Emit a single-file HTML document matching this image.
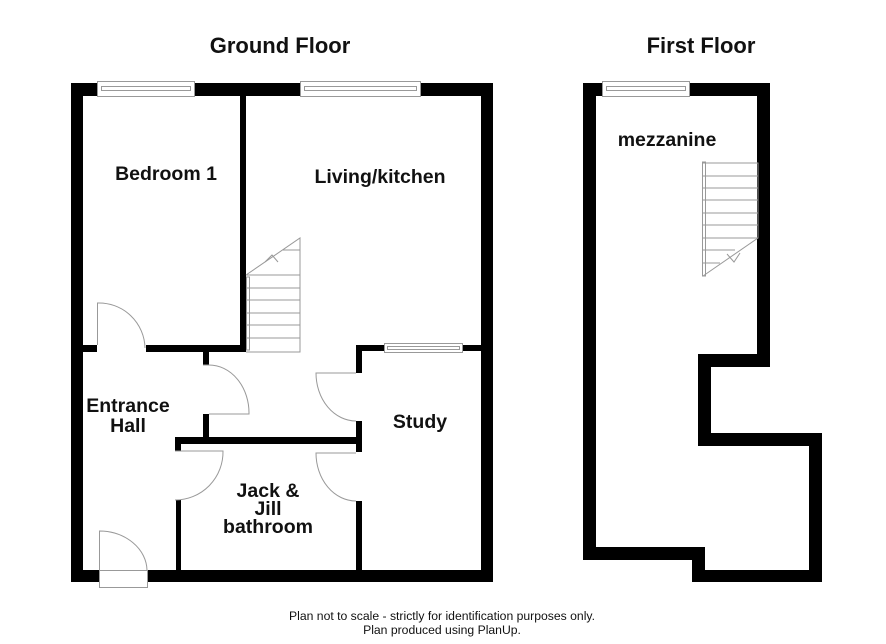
<!DOCTYPE html>
<html><head><meta charset="utf-8"><style>
html,body{margin:0;padding:0;background:#fff;}
svg{display:block;}
text{font-family:"Liberation Sans",Arial,sans-serif;font-weight:bold;fill:#111;}
</style></head><body>
<svg width="886" height="644" viewBox="0 0 886 644" xmlns="http://www.w3.org/2000/svg">
<rect width="886" height="644" fill="#fff"/>
<g fill="#000">
<rect x="71" y="83" width="26" height="13"/>
<rect x="195" y="83" width="105" height="13"/>
<rect x="421" y="83" width="72" height="13"/>
<rect x="71" y="83" width="12" height="499"/>
<rect x="481" y="83" width="12" height="499"/>
<rect x="71" y="570" width="28" height="12"/>
<rect x="148" y="570" width="345" height="12"/>
<rect x="240" y="95" width="6" height="257"/>
<rect x="83" y="345" width="14" height="7"/>
<rect x="146" y="345" width="100" height="7"/>
<rect x="203" y="350" width="6" height="15"/>
<rect x="203" y="414" width="6" height="28"/>
<rect x="175" y="437" width="187" height="7"/>
<rect x="175" y="437" width="6" height="14"/>
<rect x="176" y="500" width="5" height="72"/>
<rect x="356" y="345" width="28" height="6"/>
<rect x="462" y="345" width="20" height="6"/>
<rect x="356" y="345" width="6" height="28"/>
<rect x="356" y="421" width="6" height="31"/>
<rect x="356" y="501" width="6" height="71"/>
<rect x="583" y="83" width="19" height="13"/>
<rect x="690" y="83" width="80" height="13"/>
<rect x="583" y="83" width="13" height="477"/>
<rect x="757" y="83" width="13" height="284"/>
<rect x="698" y="354" width="72" height="13"/>
<rect x="698" y="354" width="13" height="92"/>
<rect x="698" y="433" width="124" height="13"/>
<rect x="809" y="433" width="13" height="149"/>
<rect x="692" y="570" width="130" height="12"/>
<rect x="692" y="547" width="13" height="35"/>
<rect x="583" y="547" width="122" height="13"/>
</g>
<g fill="none" stroke="#999" stroke-width="1">
<rect x="97.5" y="81.5" width="97" height="15"/>
<rect x="101.5" y="86.5" width="89" height="4"/>
<rect x="300.5" y="81.5" width="120" height="15"/>
<rect x="304.5" y="86.5" width="112" height="4"/>
<rect x="384.5" y="343.5" width="78" height="9"/>
<rect x="387.5" y="346.5" width="72" height="3"/>
<rect x="602.5" y="81.5" width="87" height="15"/>
<rect x="606.5" y="86.5" width="79" height="4"/>
<path d="M97.5 345 V303 A46 46 0 0 1 145 348"/>
<path d="M203 365 H209 A40 48 0 0 1 249 414 H209"/>
<path d="M356 373 H316 A40 48 0 0 0 356 421"/>
<path d="M175 451 H223 A48 48 0 0 1 175 500"/>
<path d="M356 453 H316 A40 48 0 0 0 356 501"/>
<path d="M99.5 572 V531 A48 40 0 0 1 147 570"/>
<rect x="99.5" y="570.5" width="48" height="17"/>
<path d="M246 352 H300 V238 L246 275"/>
<path d="M246 275 H300 M246 288 H300 M246 300 H300 M246 313 H300 M246 325 H300 M246 338 H300 M283 250 H300 M265 262 L272 255 L278 262"/>
<rect x="246.5" y="277" width="3" height="73"/>
<path d="M703 163 H758 V238 L703 276"/>
<path d="M703 176 H758 M703 188 H758 M703 200 H758 M703 213 H758 M703 225 H758 M703 238 H758 M703 250 H735 M703 263 H720 M727 254 L734 262 L740 253"/>
<rect x="702.5" y="162" width="3" height="114"/>
</g>
<text x="280" y="53" font-size="22" text-anchor="middle">Ground Floor</text>
<text x="701" y="53" font-size="22" text-anchor="middle">First Floor</text>
<text x="166" y="180" font-size="19.5" text-anchor="middle">Bedroom 1</text>
<text x="380" y="183" font-size="19.5" text-anchor="middle">Living/kitchen</text>
<text x="128" y="412" font-size="19.5" text-anchor="middle">Entrance</text>
<text x="128" y="432" font-size="19.5" text-anchor="middle">Hall</text>
<text x="420" y="428" font-size="19.5" text-anchor="middle">Study</text>
<text x="268" y="497" font-size="19.5" text-anchor="middle">Jack &amp;</text>
<text x="268" y="515" font-size="19.5" text-anchor="middle">Jill</text>
<text x="268" y="533" font-size="19.5" text-anchor="middle">bathroom</text>
<text x="667" y="146" font-size="19.5" text-anchor="middle">mezzanine</text>
<text x="442" y="620" font-size="12.2" text-anchor="middle" style="font-weight:normal">Plan not to scale - strictly for identification purposes only.</text>
<text x="442" y="634" font-size="12.2" text-anchor="middle" style="font-weight:normal">Plan produced using PlanUp.</text>
</svg>
</body></html>
